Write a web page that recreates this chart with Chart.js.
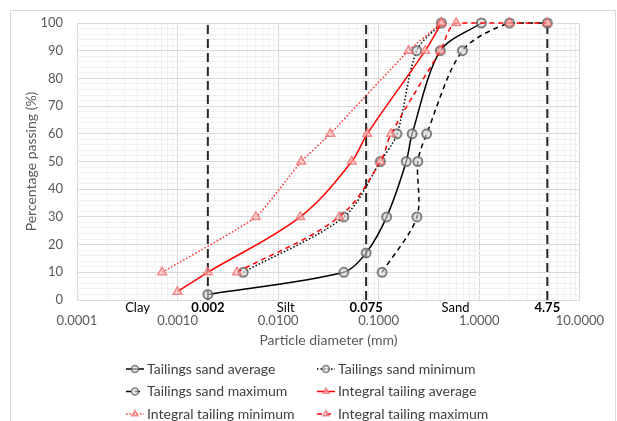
<!DOCTYPE html>
<html>
<head>
<meta charset="utf-8">
<title>Particle size distribution</title>
<script src="https://cdn.jsdelivr.net/npm/chart.js@4"></script>
<style>
  html, body { margin: 0; padding: 0; background: #fff; }
  #wrap { width: 617px; height: 421px; position: relative; }
</style>
</head>
<body>
<div id="wrap"><canvas id="psd" width="617" height="421"></canvas></div>
<script>
// Grading curves: particle diameter (mm) vs. percentage passing (%)
const seriesNames = [
  'Tailings sand average', 'Tailings sand minimum', 'Tailings sand maximum',
  'Integral tailing average', 'Integral tailing minimum', 'Integral tailing maximum'
];

const sandAvgDiam = [0.002, 0.045, 0.075, 0.12, 0.188, 0.215, 0.41, 1.05];
const sandAvgPass = [2, 10, 17, 30, 50, 60, 90, 100];

const sandMinDiam = [0.0045, 0.045, 0.104, 0.152, 0.239, 0.42];
const sandMinPass = [10, 30, 50, 60, 90, 100];

const sandMaxDiam = [0.108, 0.24, 0.245, 0.30, 0.68, 2.0, 4.75];
const sandMaxPass = [10, 30, 50, 60, 90, 100, 100];

const intAvgDiam = [0.001, 0.002, 0.0166, 0.054, 0.077, 0.29, 0.42];
const intAvgPass = [3, 10, 30, 50, 60, 90, 100];

const intMinDiam = [0.0007, 0.006, 0.017, 0.033, 0.198, 0.42];
const intMinPass = [10, 30, 50, 60, 90, 100];

const intMaxDiam = [0.0039, 0.0405, 0.104, 0.133, 0.41, 0.59, 2.0, 4.75];
const intMaxPass = [10, 30, 50, 60, 90, 100, 100, 100];

// Soil class boundaries (mm) and class names between them
const boundaryValues = [0.002, 0.075, 4.75];
const boundaryLabels = ['0.002', '0.075', '4.75'];
const zoneNames = ['Clay', 'Silt', 'Sand'];
const zoneCenters = [0.0004, 0.0119, 0.58];

// Axis ticks
const xDecades = [0.0001, 0.001, 0.01, 0.1, 1, 10];
const xDecadeLabels = ['0.0001', '0.0010', '0.0100', '0.1000', '1.0000', '10.0000'];
const yMajorTicks = [0, 10, 20, 30, 40, 50, 60, 70, 80, 90, 100];

const toPoints = (xs, ys) => xs.map((x, i) => ({ x: x, y: ys[i] }));

const FONT = 'Lato, "Open Sans", sans-serif';
const GREY_RING = 'rgba(100,100,100,0.8)';
const GREY_FILL = 'rgba(215,215,215,0.6)';
const PINK_RING = 'rgba(240,100,100,0.75)';
const PINK_FILL = 'rgba(255,205,205,0.55)';

const styles = [
  { color: '#000', dash: [], point: 'circle', tension: 0.3 },
  { color: '#000', dash: [1.5, 2], point: 'circle', tension: 0.3 },
  { color: '#000', dash: [5, 4], point: 'circle', tension: 0.3 },
  { color: '#ff0000', dash: [], point: 'triangle', tension: 0.35 },
  { color: '#ff3030', dash: [1.5, 2], point: 'triangle', tension: 0.15 },
  { color: '#ff0000', dash: [5, 4], point: 'triangle', tension: 0.35 }
];

const seriesData = [
  toPoints(sandAvgDiam, sandAvgPass),
  toPoints(sandMinDiam, sandMinPass),
  toPoints(sandMaxDiam, sandMaxPass),
  toPoints(intAvgDiam, intAvgPass),
  toPoints(intMinDiam, intMinPass),
  toPoints(intMaxDiam, intMaxPass)
];

const datasets = seriesData.map((data, i) => {
  const s = styles[i];
  const circle = s.point === 'circle';
  return {
    label: seriesNames[i],
    data: data,
    showLine: true,
    borderColor: s.color,
    borderWidth: 1.5,
    borderDash: s.dash,
    tension: s.tension,
    pointStyle: s.point,
    pointRadius: circle ? 4.5 : 5,
    pointBorderWidth: circle ? 2 : 1.5,
    pointBorderColor: circle ? GREY_RING : PINK_RING,
    pointBackgroundColor: circle ? GREY_FILL : PINK_FILL,
    clip: false,
    order: 20 - i
  };
});

// Dashed verticals at the class boundaries
boundaryValues.forEach((v) => {
  datasets.push({
    label: '',
    data: [{ x: v, y: 0 }, { x: v, y: 100 }],
    showLine: true,
    borderColor: '#262626',
    borderWidth: 2,
    borderDash: [9, 5],
    pointRadius: 0,
    tension: 0,
    clip: false,
    order: 30
  });
});

const isDecade = (v) => Math.abs(Math.log10(v) - Math.round(Math.log10(v))) < 1e-9;

const frame = {
  id: 'frame',
  beforeDraw(chart) {
    const c = chart.ctx;
    c.save();
    c.fillStyle = '#fff';
    c.fillRect(0, 0, chart.width, chart.height);
    c.strokeStyle = '#d9d9d9';
    c.lineWidth = 1;
    c.strokeRect(10.5, 10.5, 605, 440);
    c.restore();
  }
};

const zoneText = {
  id: 'zoneText',
  afterDraw(chart) {
    const c = chart.ctx;
    const xs = chart.scales.x;
    const y = chart.chartArea.bottom + 8;
    c.save();
    c.textAlign = 'center';
    c.textBaseline = 'middle';
    c.fillStyle = '#000';
    c.font = '13px ' + FONT;
    zoneNames.forEach((n, i) => c.fillText(n, xs.getPixelForValue(zoneCenters[i]), y));
    c.font = 'bold 13px ' + FONT;
    boundaryLabels.forEach((n, i) => c.fillText(n, xs.getPixelForValue(boundaryValues[i]), y));
    c.restore();
  }
};

const legendBox = {
  id: 'legendBox',
  afterDraw(chart) {
    const c = chart.ctx;
    const cols = [135, 326];
    const rows = [369, 391.5, 414];
    c.save();
    c.font = '14px ' + FONT;
    c.textBaseline = 'middle';
    c.textAlign = 'left';
    seriesNames.forEach((name, i) => {
      const ds = chart.data.datasets[i];
      const cx = cols[i % 2];
      const cy = rows[Math.floor(i / 2)];
      c.strokeStyle = ds.borderColor;
      c.lineWidth = 1.5;
      c.setLineDash(ds.borderDash);
      c.beginPath();
      c.moveTo(cx - 9, cy);
      c.lineTo(cx + 9, cy);
      c.stroke();
      c.setLineDash([]);
      c.fillStyle = ds.pointBackgroundColor;
      c.strokeStyle = ds.pointBorderColor;
      c.lineWidth = 1.5;
      Chart.helpers.drawPoint(c, { pointStyle: ds.pointStyle, radius: 3.5, borderWidth: 1.5 }, cx, cy);
      c.fillStyle = '#404040';
      c.fillText(name, cx + 12, cy);
    });
    c.restore();
  }
};

new Chart(document.getElementById('psd'), {
  type: 'scatter',
  data: { datasets: datasets },
  options: {
    responsive: false,
    animation: false,
    devicePixelRatio: 1,
    layout: { padding: { left: 0, right: 33, top: 23, bottom: 71 } },
    plugins: { legend: { display: false }, tooltip: { enabled: false } },
    scales: {
      x: {
        type: 'logarithmic',
        min: 0.0001,
        max: 10,
        afterBuildTicks(scale) {
          const t = [];
          xDecades.forEach((d) => {
            if (d >= 10) { t.push({ value: d }); return; }
            for (let m = 1; m <= 9; m++) t.push({ value: +(m * d).toPrecision(6) });
          });
          scale.ticks = t;
        },
        afterFit(scale) { scale.height = 50; },
        ticks: {
          autoSkip: false,
          maxRotation: 0,
          padding: 13,
          color: '#595959',
          font: { family: FONT, size: 13 },
          callback(v) {
            const k = xDecades.findIndex((d) => Math.abs(d - v) / d < 1e-9);
            return k >= 0 ? xDecadeLabels[k] : '';
          }
        },
        grid: {
          drawTicks: false,
          color: (ctx) => (ctx.tick && isDecade(ctx.tick.value) ? '#d9d9d9' : '#f0f0f0'),
          lineWidth: 1
        },
        border: { display: false },
        title: {
          display: true,
          text: 'Particle diameter (mm)',
          color: '#595959',
          font: { family: FONT, size: 14 },
          padding: { top: 0, bottom: 1.6 }
        }
      },
      y: {
        min: 0,
        max: 100,
        afterBuildTicks(scale) {
          const t = [];
          for (let v = 0; v <= 100; v += 2) t.push({ value: v });
          scale.ticks = t;
        },
        afterFit(scale) { scale.width = 77; },
        ticks: {
          autoSkip: false,
          padding: 14,
          color: '#595959',
          font: { family: FONT, size: 13 },
          callback(v) { return yMajorTicks.includes(v) ? String(v) : ''; }
        },
        grid: {
          drawTicks: false,
          color: (ctx) => (ctx.tick && ctx.tick.value % 10 === 0 ? '#d9d9d9' : '#f0f0f0'),
          lineWidth: 1
        },
        border: { display: false },
        title: {
          display: true,
          text: 'Percentage passing (%)',
          color: '#595959',
          font: { family: FONT, size: 14 },
          padding: { top: 22.6, bottom: 0 }
        }
      }
    }
  },
  plugins: [frame, zoneText, legendBox]
});
</script>
</body>
</html>
